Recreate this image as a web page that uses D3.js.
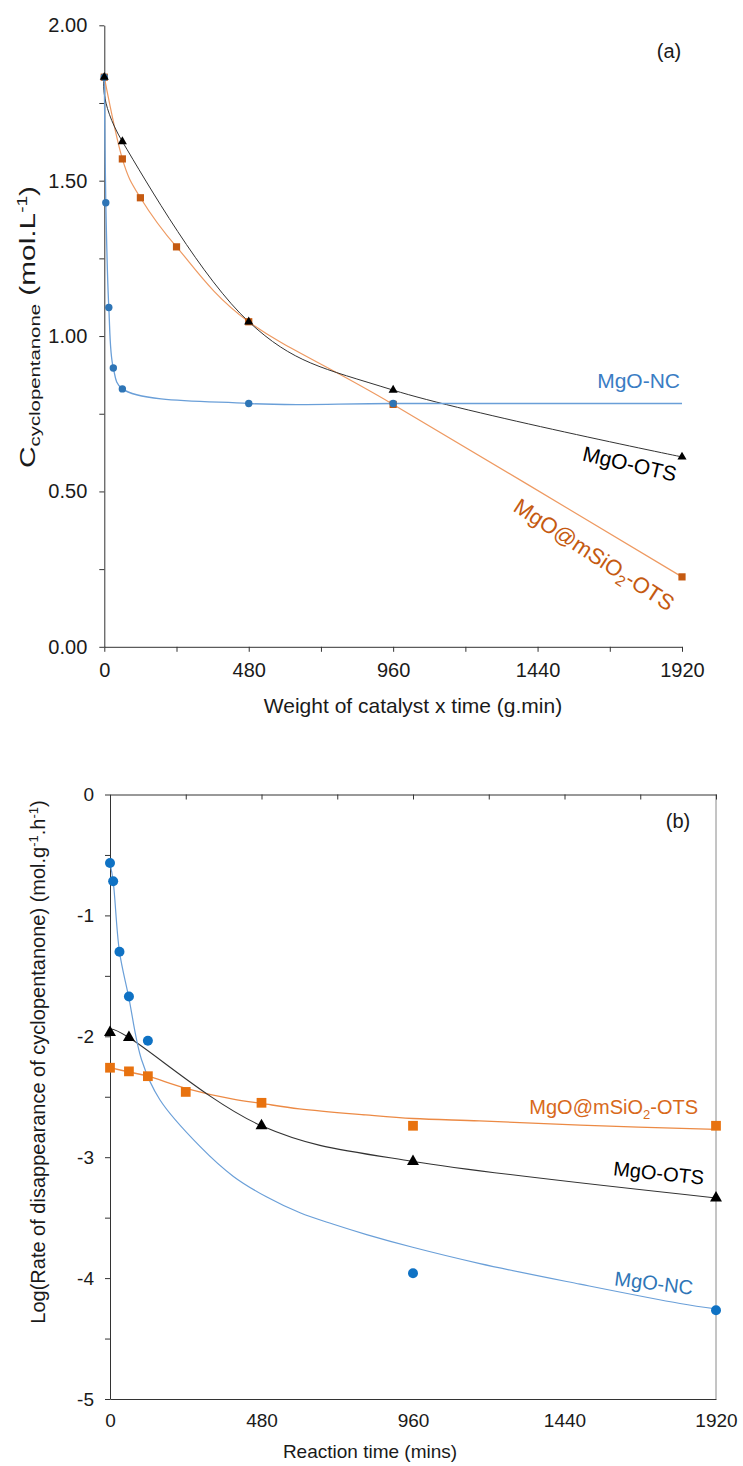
<!DOCTYPE html>
<html><head><meta charset="utf-8">
<script src="https://cdn.jsdelivr.net/npm/d3@7"></script>
<style>
body{margin:0;background:#fff}
svg{display:block}
text{font-family:"Liberation Sans",Arial,sans-serif}
</style>
</head><body>
<svg id="c" width="743" height="1466"></svg>
<script>
// ---------- Panel (a) data: C_cyclopentanone vs weight of catalyst x time ----------
const aNcX  = [0, 5, 15, 30, 60, 480, 960];
const aNcY  = [1.833, 1.429, 1.092, 0.897, 0.830, 0.783, 0.783];
const aNcLineX = [0, 5, 15, 30, 60, 480, 960, 1920];
const aNcLineY = [1.833, 1.429, 1.092, 0.897, 0.830, 0.783, 0.783, 0.783];
const aOtsX = [0, 60, 480, 960, 1920];
const aOtsY = [1.833, 1.626, 1.046, 0.826, 0.611];
const aSioX = [0, 60, 120, 240, 480, 960, 1920];
const aSioY = [1.833, 1.570, 1.445, 1.287, 1.046, 0.780, 0.225];
const aYTickLabels = ["0.00", "0.50", "1.00", "1.50", "2.00"];
const xTickLabels = ["0", "480", "960", "1440", "1920"];

// ---------- Panel (b) data: log rate vs reaction time ----------
const bNcX  = [0, 10, 30, 60, 120, 960, 1920];
const bNcY  = [-0.566, -0.717, -1.30, -1.671, -2.037, -3.96, -4.266];
const bNcFitX = [0, 10, 30, 59, 100, 158, 285, 391, 497, 602, 708, 813, 959, 1172, 1489, 1806, 1920];
const bNcFitY = [-0.566, -0.717, -1.30, -1.671, -2.194, -2.525, -2.911, -3.159, -3.33, -3.46, -3.555, -3.64, -3.745, -3.88, -4.05, -4.21, -4.255];
const bOtsX = [0, 60, 480, 960, 1920];
const bOtsY = [-1.968, -2.01, -2.74, -3.035, -3.337];
const bSioX = [0, 60, 120, 240, 480, 960, 1920];
const bSioY = [-2.26, -2.29, -2.33, -2.46, -2.55, -2.74, -2.74];
const bSioFitX = [0, 60, 120, 240, 390, 480, 600, 810, 960, 1170, 1490, 1920];
const bSioFitY = [-2.26, -2.295, -2.33, -2.43, -2.52, -2.555, -2.60, -2.65, -2.68, -2.70, -2.735, -2.77];
const bYTickLabels = ["0", "-1", "-2", "-3", "-4", "-5"];

const zip = (xs, ys) => xs.map((x, i) => [x, ys[i]]);
const svg = d3.select("#c");
const INK = "#1a1a1a";

// ================= PANEL A =================
const xa = d3.scaleLinear().domain([0, 1920]).range([104.3, 682]);
const ya = d3.scaleLinear().domain([0, 2]).range([646.8, 25.3]);
const ga = svg.append("g");

const yAxA = d3.axisLeft(ya).tickValues(d3.range(0, 2.001, 0.25)).tickSize(5).tickSizeOuter(0)
  .tickPadding(12)
  .tickFormat(d => { const i = Math.round(d / 0.5); return Math.abs(d - i * 0.5) < 1e-6 ? aYTickLabels[i] : ""; });
const gya = ga.append("g").attr("transform", `translate(${xa(0)},0)`).call(yAxA);
gya.selectAll("text").style("font-size", "20px").attr("fill", INK);
gya.selectAll("line,path").attr("stroke", "#333");

const xAxA = d3.axisBottom(xa).tickValues(d3.range(0, 1921, 240)).tickSize(5).tickSizeOuter(0)
  .tickPadding(11)
  .tickFormat(d => d % 480 === 0 ? xTickLabels[d / 480] : "");
const gxa = ga.append("g").attr("transform", `translate(0,${ya(0)})`).call(xAxA);
gxa.selectAll("text").style("font-size", "20px").attr("fill", INK);
gxa.selectAll("line,path").attr("stroke", "#333");

ga.append("text").attr("x", 413).attr("y", 713).attr("text-anchor", "middle")
  .style("font-size", "21px").attr("fill", INK).text("Weight of catalyst x time (g.min)");
const yta = ga.append("text").attr("transform", "translate(35,327) rotate(-90)")
  .attr("text-anchor", "middle").style("font-size", "22px").attr("fill", INK)
  .attr("textLength", 282).attr("lengthAdjust", "spacingAndGlyphs");
yta.append("tspan").text("C");
yta.append("tspan").attr("dy", 5).style("font-size", "15px").text("cyclopentanone");
yta.append("tspan").attr("dy", -5).text(" (mol.L");
yta.append("tspan").attr("dy", -8).style("font-size", "14px").text("-1");
yta.append("tspan").attr("dy", 8).text(")");
ga.append("text").attr("x", 669).attr("y", 58).attr("text-anchor", "middle")
  .style("font-size", "20px").attr("fill", INK).text("(a)");

const lineA = d3.line().x(d => xa(d[0])).y(d => ya(d[1]));
ga.append("path").datum(zip(aSioX, aSioY)).attr("d", lineA.curve(d3.curveCardinal.tension(0))).attr("fill", "none")
  .attr("stroke", "#EE9A62").attr("stroke-width", 1.2);
ga.append("path").datum(zip(aOtsX, aOtsY)).attr("d", lineA.curve(d3.curveCardinal.tension(0))).attr("fill", "none")
  .attr("stroke", "#333").attr("stroke-width", 1);
ga.append("path").datum(zip(aNcLineX, aNcLineY)).attr("d", lineA.curve(d3.curveCatmullRom.alpha(0.5))).attr("fill", "none")
  .attr("stroke", "#6A9FD8").attr("stroke-width", 1.3);

const sq = d3.symbol().type(d3.symbolSquare);
const tri = d3.symbol().type(d3.symbolTriangle);
ga.selectAll(".sa").data(zip(aSioX, aSioY)).join("path")
  .attr("transform", d => `translate(${xa(d[0])},${ya(d[1])})`)
  .attr("d", sq.size(52)).attr("fill", "#C55A11");
ga.selectAll(".ca").data(zip(aNcX, aNcY)).join("circle")
  .attr("cx", d => xa(d[0])).attr("cy", d => ya(d[1])).attr("r", 3.7).attr("fill", "#2E75B6");
ga.selectAll(".ta").data(zip(aOtsX, aOtsY)).join("path")
  .attr("transform", d => `translate(${xa(d[0])},${ya(d[1])})`)
  .attr("d", tri.size(36)).attr("fill", "#000");

ga.append("text").attr("x", 680).attr("y", 388).attr("text-anchor", "end")
  .style("font-size", "21px").attr("fill", "#3A7DC4").text("MgO-NC");
ga.append("text").attr("transform", "translate(628,471) rotate(13)").attr("text-anchor", "middle")
  .style("font-size", "21px").attr("fill", "#000").text("MgO-OTS");
const la = ga.append("text").attr("transform", "translate(590,561) rotate(33)").attr("text-anchor", "middle")
  .style("font-size", "22px").attr("fill", "#C55A11");
la.append("tspan").text("MgO@mSiO");
la.append("tspan").attr("dy", 5).style("font-size", "15px").text("2");
la.append("tspan").attr("dy", -5).text("-OTS");

// ================= PANEL B =================
const xb = d3.scaleLinear().domain([0, 1920]).range([110, 716]);
const yb = d3.scaleLinear().domain([-5, 0]).range([1399, 794.5]);
const gb = svg.append("g");

gb.append("line").attr("x1", xb(1920)).attr("x2", xb(1920)).attr("y1", yb(0)).attr("y2", yb(-5))
  .attr("stroke", "#8a8a8a");
const gtb = gb.append("g").attr("transform", `translate(0,${yb(0)})`)
  .call(d3.axisTop(xb).tickValues(d3.range(0, 1921, 240)).tickSize(-5).tickSizeOuter(0).tickFormat(""));
gtb.selectAll("line,path").attr("stroke", "#333");
const gbb = gb.append("g").attr("transform", `translate(0,${yb(-5)})`)
  .call(d3.axisBottom(xb).tickValues(d3.range(0, 1921, 480)).tickSize(0).tickSizeOuter(0).tickPadding(15)
    .tickFormat((d, i) => xTickLabels[i]));
gbb.selectAll("text").style("font-size", "19px").attr("fill", INK);
gbb.selectAll("path").attr("stroke", "#333");
const gyb = gb.append("g").attr("transform", `translate(${xb(0)},0)`)
  .call(d3.axisLeft(yb).tickValues(d3.range(-5, 0.001, 0.5)).tickSize(5).tickSizeOuter(0).tickPadding(11)
    .tickFormat(d => Number.isInteger(d) ? bYTickLabels[-d] : ""));
gyb.selectAll("text").style("font-size", "19px").attr("fill", INK);
gyb.selectAll("line,path").attr("stroke", "#333");

gb.append("text").attr("x", 370).attr("y", 1458).attr("text-anchor", "middle")
  .style("font-size", "19px").attr("fill", INK).text("Reaction time (mins)");
const ytb = gb.append("text").attr("transform", "translate(45,1062) rotate(-90)")
  .attr("text-anchor", "middle").style("font-size", "20px").attr("fill", INK);
ytb.append("tspan").text("Log(Rate of disappearance of cyclopentanone) (mol.g");
ytb.append("tspan").attr("dy", -7).style("font-size", "13px").text("-1");
ytb.append("tspan").attr("dy", 7).text(".h");
ytb.append("tspan").attr("dy", -7).style("font-size", "13px").text("-1");
ytb.append("tspan").attr("dy", 7).text(")");
gb.append("text").attr("x", 678).attr("y", 828).attr("text-anchor", "middle")
  .style("font-size", "20px").attr("fill", INK).text("(b)");

const lineB = d3.line().x(d => xb(d[0])).y(d => yb(d[1]));
gb.append("path").datum(zip(bSioFitX, bSioFitY)).attr("d", lineB.curve(d3.curveCatmullRom.alpha(0.5)))
  .attr("fill", "none").attr("stroke", "#EC8A45").attr("stroke-width", 1.3);
gb.append("path").datum(zip(bOtsX, bOtsY)).attr("d", lineB.curve(d3.curveCardinal.tension(0)))
  .attr("fill", "none").attr("stroke", "#333").attr("stroke-width", 1.1);
gb.append("path").datum(zip(bNcFitX, bNcFitY)).attr("d", lineB.curve(d3.curveCatmullRom.alpha(0.5)))
  .attr("fill", "none").attr("stroke", "#6A9FD8").attr("stroke-width", 1.2);

gb.selectAll(".sb").data(zip(bSioX, bSioY)).join("path")
  .attr("transform", d => `translate(${xb(d[0])},${yb(d[1])})`)
  .attr("d", sq.size(95)).attr("fill", "#E8720F");
gb.selectAll(".tb").data(zip(bOtsX, bOtsY)).join("path")
  .attr("transform", d => `translate(${xb(d[0])},${yb(d[1])})`)
  .attr("d", tri.size(62)).attr("fill", "#000");
gb.selectAll(".cb").data(zip(bNcX, bNcY)).join("circle")
  .attr("cx", d => xb(d[0])).attr("cy", d => yb(d[1])).attr("r", 5).attr("fill", "#0F72C4");

const lb = gb.append("text").attr("x", 698).attr("y", 1114).attr("text-anchor", "end")
  .style("font-size", "20px").attr("fill", "#D8691B");
lb.append("tspan").text("MgO@mSiO");
lb.append("tspan").attr("dy", 5).style("font-size", "13px").text("2");
lb.append("tspan").attr("dy", -5).text("-OTS");
gb.append("text").attr("transform", "translate(658,1180) rotate(6)").attr("text-anchor", "middle")
  .style("font-size", "20px").attr("fill", "#000").text("MgO-OTS");
gb.append("text").attr("transform", "translate(653,1290) rotate(7)").attr("text-anchor", "middle")
  .style("font-size", "20px").attr("fill", "#2E75B6").text("MgO-NC");
</script>
</body></html>
